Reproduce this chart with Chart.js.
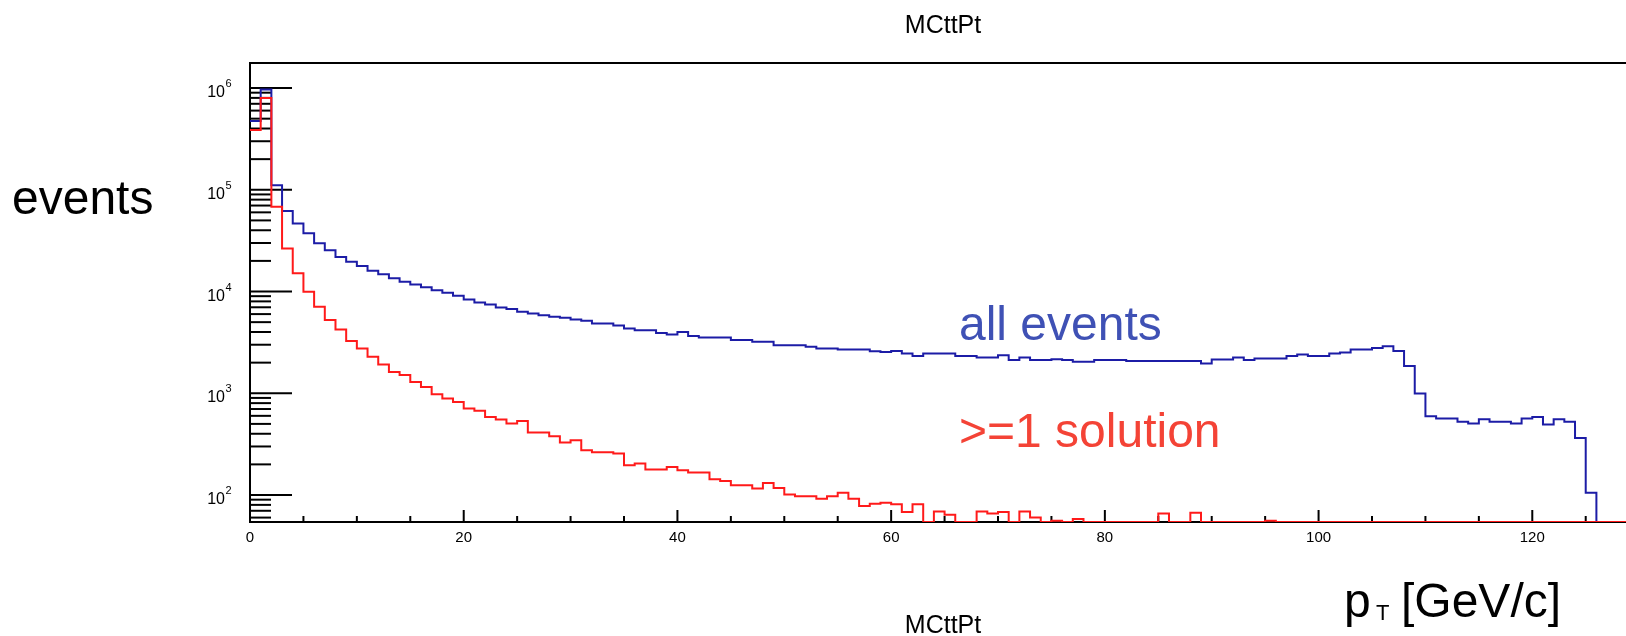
<!DOCTYPE html>
<html>
<head>
<meta charset="utf-8">
<title>MCttPt</title>
<script src="https://cdn.jsdelivr.net/npm/chart.js@4"></script>
<style>
  body { margin: 0; background: #fff; }
  canvas { display: block; }
</style>
</head>
<body>
<canvas id="ptChart" width="1626" height="636"></canvas>
<script>
// pT of the ttbar system, 1 GeV/c bins starting at 0
const nBins = 129;
const binLow = [];
for (let i = 0; i < nBins; i++) binLow.push(i);

const allEvents = [
  473000, 967000, 111000, 62000, 46700, 37300, 29900, 25500, 21900, 19600,
  17800, 16000, 14800, 13500, 12500, 11700, 11000, 10300, 9710, 9070,
  8360, 7780, 7470, 6980, 6720, 6310, 6090, 5860, 5640, 5510,
  5320, 5150, 4850, 4850, 4640, 4340, 4170, 4170, 3920, 3780,
  4010, 3660, 3540, 3540, 3540, 3330, 3330, 3200, 3200, 2970,
  2970, 2970, 2860, 2760, 2760, 2700, 2700, 2700, 2590, 2540,
  2610, 2460, 2330, 2460, 2460, 2460, 2330, 2330, 2250, 2250,
  2370, 2120, 2250, 2120, 2120, 2160, 2120, 2040, 2040, 2120,
  2120, 2120, 2070, 2070, 2070, 2070, 2070, 2070, 2070, 1960,
  2150, 2150, 2250, 2120, 2200, 2200, 2200, 2320, 2400, 2330,
  2330, 2460, 2520, 2700, 2700, 2790, 2900, 2610, 1850, 995,
  596, 565, 565, 524, 505, 556, 524, 524, 505, 565,
  586, 493, 556, 524, 364, 105, 0, 0, 0,
];

const oneSolution = [
  386000, 798000, 68000, 26500, 15100, 9930, 7080, 5240, 4240, 3270,
  2760, 2280, 1920, 1620, 1510, 1290, 1155, 980, 889, 823,
  709, 672, 586, 553, 505, 535, 412, 412, 378, 328,
  346, 276, 263, 263, 256, 196, 204, 178, 178, 189,
  175, 166, 166, 143, 137, 125, 125, 116, 131, 117,
  101, 97, 97, 92, 97, 105, 92, 78, 82, 84,
  81, 68, 81, 0, 69, 64, 0, 0, 69, 66,
  68, 0, 69, 60, 0, 56, 0, 58, 0, 0,
  0, 0, 0, 0, 0, 66, 0, 0, 67, 0,
  0, 0, 0, 0, 0, 56, 0, 0, 0, 0,
  0, 0, 0, 0, 0, 0, 0, 0, 0, 0,
  0, 0, 0, 0, 0, 0, 0, 0, 0, 0,
  0, 0, 0, 0, 0, 0, 0, 0, 0,
];

const xLabels = [0, 20, 40, 60, 80, 100, 120];
const yDecades = [2, 3, 4, 5, 6];

const xMax = 128.77;
const yMin = 54.3;
const yMax = 1.762e6;

const font = '"Liberation Sans", Arial, sans-serif';

// empty bins sit on the floor of the log axis, like ROOT draws them
function histPoints(values) {
  const pts = values.map((v, i) => ({ x: binLow[i], y: v > 0 ? v : yMin }));
  const last = values.length - 1;
  pts.push({ x: binLow[last] + 1, y: pts[last].y });
  return pts;
}

function seg(ctx, x1, y1, x2, y2) {
  ctx.beginPath();
  ctx.moveTo(x1, y1);
  ctx.lineTo(x2, y2);
  ctx.stroke();
}

// ROOT-like frame: inward ticks, 10^n labels, free texts
const rootFrame = {
  id: "rootFrame",
  beforeDatasetsDraw(chart) {
    const { ctx, chartArea: a, scales } = chart;
    const x = scales.x;
    const y = scales.y;
    ctx.save();
    ctx.strokeStyle = "#000";
    ctx.lineWidth = 2;
    ctx.beginPath();
    ctx.moveTo(a.right, a.top);
    ctx.lineTo(a.left, a.top);
    ctx.lineTo(a.left, a.bottom);
    ctx.lineTo(a.right, a.bottom);
    ctx.stroke();

    // x ticks every 5, long ones every 20
    for (let v = 0; v <= xMax; v += 5) {
      const px = x.getPixelForValue(v);
      const len = v % 20 === 0 ? 12 : 6;
      seg(ctx, px, a.bottom, px, a.bottom - len);
    }
    // y ticks: decades long, 2..9 short
    for (let e = 1; e <= 6; e++) {
      for (let k = 1; k <= 9; k++) {
        const v = k * Math.pow(10, e);
        if (v < yMin || v > yMax) continue;
        const py = y.getPixelForValue(v);
        seg(ctx, a.left, py, a.left + (k === 1 ? 42 : 21), py);
      }
    }

    ctx.fillStyle = "#000";
    ctx.textBaseline = "alphabetic";
    ctx.font = "15px " + font;
    ctx.textAlign = "center";
    xLabels.forEach((v) => {
      ctx.fillText(String(v), x.getPixelForValue(v), 542);
    });
    yDecades.forEach((d) => {
      const py = y.getPixelForValue(Math.pow(10, d));
      ctx.font = "16px " + font;
      ctx.textAlign = "right";
      ctx.fillText("10", 225, py + 9);
      ctx.font = "11px " + font;
      ctx.textAlign = "left";
      ctx.fillText(String(d), 225.5, py - 1);
    });
    ctx.restore();
  },
  afterDraw(chart) {
    const { ctx } = chart;
    ctx.save();
    ctx.textBaseline = "alphabetic";
    ctx.fillStyle = "#000";
    ctx.font = "25px " + font;
    ctx.textAlign = "center";
    ctx.fillText("MCttPt", 943, 33);
    ctx.fillText("MCttPt", 943, 633);

    ctx.textAlign = "left";
    ctx.font = "48px " + font;
    ctx.fillText("events", 12, 214);
    ctx.fillText("p", 1344, 617);
    ctx.font = "22px " + font;
    ctx.fillText("T", 1376, 620);
    ctx.font = "48px " + font;
    ctx.fillText("[GeV/c]", 1401, 617);

    ctx.fillStyle = "#3f51b5";
    ctx.fillText("all events", 959, 340);
    ctx.fillStyle = "#f44336";
    ctx.fillText(">=1 solution", 959, 447);
    ctx.restore();
  },
};

new Chart("ptChart", {
  type: "line",
  data: {
    datasets: [
      {
        label: ">=1 solution",
        data: histPoints(oneSolution),
        borderColor: "#ff1a1a",
        borderWidth: 2,
        stepped: "before",
        pointRadius: 0,
        fill: false,
        order: 0,
      },
      {
        label: "all events",
        data: histPoints(allEvents),
        borderColor: "#1c1ca6",
        borderWidth: 2,
        stepped: "before",
        pointRadius: 0,
        fill: false,
        order: 1,
      },
    ],
  },
  options: {
    responsive: false,
    animation: false,
    layout: {
      padding: { left: 250, top: 63, right: 0, bottom: 114 },
    },
    scales: {
      x: { type: "linear", min: 0, max: xMax, display: false },
      y: { type: "logarithmic", min: yMin, max: yMax, display: false },
    },
    plugins: {
      legend: { display: false },
      tooltip: { enabled: false },
    },
  },
  plugins: [rootFrame],
});
</script>
</body>
</html>
